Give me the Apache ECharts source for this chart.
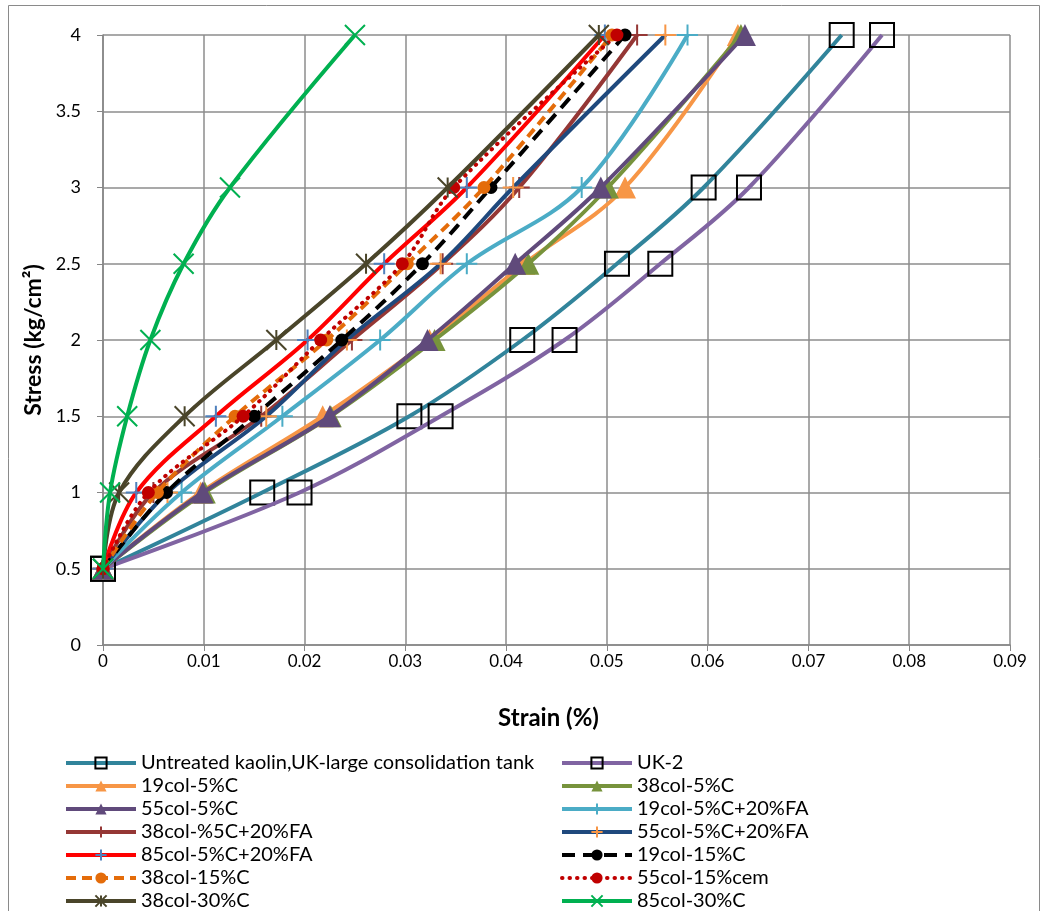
<!DOCTYPE html>
<html>
<head>
<meta charset="utf-8">
<script src="https://cdn.jsdelivr.net/npm/echarts@6/dist/echarts.min.js"></script>
<style>html,body{margin:0;padding:0;background:#fff}#c{width:1044px;height:911px}</style>
</head>
<body>
<div id="c"></div>
<script>
// Stress levels (kg/cm2) shared by every series
const stress = [0.5, 1, 1.5, 2, 2.5, 3, 4];
// Strain (%) per series
const untreated   = [0, 0.0158, 0.0304, 0.0416, 0.0510, 0.0596, 0.0733];
const uk2         = [0, 0.0195, 0.0335, 0.0458, 0.0553, 0.0641, 0.0773];
const c19_5C      = [0, 0.0097, 0.0218, 0.0324, 0.0418, 0.0518, 0.0630];
const c38_5C      = [0, 0.0101, 0.0226, 0.0329, 0.0422, 0.0501, 0.0633];
const c55_5C      = [0, 0.0099, 0.0225, 0.0322, 0.0409, 0.0494, 0.0637];
const c19_5C20FA  = [0, 0.0078, 0.0178, 0.0275, 0.0361, 0.0475, 0.0580];
const c38_5C20FA  = [0, 0.0050, 0.0157, 0.0247, 0.0337, 0.0413, 0.0530];
const c55_5C20FA  = [0, 0.0064, 0.0162, 0.0242, 0.0335, 0.0407, 0.0558];
const c85_5C20FA  = [0, 0.0033, 0.0112, 0.0203, 0.0279, 0.0361, 0.0498];
const c19_15C     = [0, 0.0063, 0.0150, 0.0237, 0.0317, 0.0385, 0.0518];
const c38_15C     = [0, 0.0054, 0.0131, 0.0222, 0.0302, 0.0378, 0.0505];
const c55_15cem   = [0, 0.0045, 0.0139, 0.0216, 0.0297, 0.0348, 0.0510];
const c38_30C     = [0, 0.0016, 0.0081, 0.0172, 0.0261, 0.0342, 0.0492];
const c85_30C     = [0, 0.0007, 0.0024, 0.0047, 0.0080, 0.0126, 0.0250];

const names = [
  'Untreated kaolin,UK-large consolidation tank', 'UK-2',
  '19col-5%C', '38col-5%C',
  '55col-5%C', '19col-5%C+20%FA',
  '38col-%5C+20%FA', '55col-5%C+20%FA',
  '85col-5%C+20%FA', '19col-15%C',
  '38col-15%C', '55col-15%cem',
  '38col-30%C', '85col-30%C'
];
const values = [untreated, uk2, c19_5C, c38_5C, c55_5C, c19_5C20FA, c38_5C20FA,
  c55_5C20FA, c85_5C20FA, c19_15C, c38_15C, c55_15cem, c38_30C, c85_30C];
const xTicks = ['0','0.01','0.02','0.03','0.04','0.05','0.06','0.07','0.08','0.09'];

const PLUS = 'path://M5,0L5,10M0,5L10,5';
const XMARK = 'path://M0,0L10,10M10,0L0,10';
const STAR = 'path://M0,0L10,10M10,0L0,10M5,0L5,10';

// styles: [lineColor, lineType, symbol, symbolSize, markerFill, markerStroke, strokeWidth, cap]
const styles = [
  ['#31849B','solid','rect',24,'transparent','#000',2,'butt'],
  ['#8064A2','solid','rect',24,'transparent','#000',2,'butt'],
  ['#F79646','solid','triangle',22,'#F79646','#F79646',0,'butt'],
  ['#77933C','solid','triangle',22,'#77933C','#77933C',0,'butt'],
  ['#604A7B','solid','triangle',22,'#604A7B','#604A7B',0,'butt'],
  ['#4BACC6','solid',PLUS,21,'#4BACC6','#4BACC6',2,'butt'],
  ['#953735','solid',PLUS,21,'#953735','#953735',2,'butt'],
  ['#1F497D','solid',PLUS,21,'#F79646','#F79646',2,'butt'],
  ['#FF0000','solid',PLUS,21,'#4F81BD','#4F81BD',2,'butt'],
  ['#000000',[13,8],'circle',13,'#000000','#000000',0,'butt'],
  ['#E46C0A',[10,6],'circle',13,'#E46C0A','#E46C0A',0,'butt'],
  ['#C00000',[0.5,7],'circle',13,'#C00000','#C00000',0,'round'],
  ['#4A452A','solid',STAR,20,'#4A452A','#4A452A',2,'butt'],
  ['#00B050','solid',XMARK,20,'#00B050','#00B050',2,'butt']
];

const series = names.map((n, i) => {
  const s = styles[i];
  return {
    name: n,
    type: 'line',
    smooth: 0.35,
    data: values[i].map((v, k) => [v, stress[k]]),
    symbol: s[2],
    symbolSize: s[3],
    showAllSymbol: true,
    lineStyle: {color: s[0], width: 4, type: s[1], cap: s[7]},
    itemStyle: {color: s[4], borderColor: s[5], borderWidth: s[6]},
    emphasis: {disabled: true},
    z: 2 + i
  };
});

const FONT = 'Lato, Liberation Sans, sans-serif';
const legendFont = {fontFamily: FONT, fontSize: 20, lineHeight: 20, color: '#000'};
const legendBase = {orient: 'vertical', top: 753, height: 170, padding: 0,
  itemWidth: 70, itemHeight: 14, itemGap: 3, textStyle: legendFont,
  lineStyle: {width: 4}};
const chart = echarts.init(document.getElementById('c'), null, {renderer: 'canvas'});
chart.setOption({
  animation: false,
  backgroundColor: '#fff',
  graphic: [{type: 'rect', shape: {x: 8.5, y: 5.5, width: 1031, height: 930}, style: {fill: 'none', stroke: '#8a8a8a', lineWidth: 1}, silent: true}],
  grid: {left: 103, right: 34, top: 35, bottom: 266, containLabel: false},
  xAxis: {
    type: 'value', min: 0, max: 0.09, interval: 0.01,
    name: 'Strain (%)', nameLocation: 'middle', nameGap: 61,
    nameTextStyle: {fontFamily: FONT, fontWeight: 'bold', fontSize: 24, color: '#000', padding: [0, 16, 0, 0]},
    axisLine: {lineStyle: {color: '#868686', width: 1.5}},
    axisTick: {show: true, length: 6, inside: false, lineStyle: {color: '#868686'}},
    axisLabel: {margin: 8, fontFamily: FONT, fontSize: 17, color: '#000',
      formatter: (v) => xTicks[Math.round(v / 0.01)]},
    splitLine: {show: true, lineStyle: {color: '#8c8c8c', width: 1.5}}
  },
  yAxis: {
    type: 'value', min: 0, max: 4, interval: 0.5,
    name: 'Stress (kg/cm²)', nameLocation: 'middle', nameGap: 57, nameRotate: 90,
    nameTextStyle: {fontFamily: FONT, fontWeight: 'bold', fontSize: 23, color: '#000'},
    axisLine: {show: true, lineStyle: {color: '#868686', width: 1.5}},
    axisTick: {show: true, length: 6, inside: false, lineStyle: {color: '#868686'}},
    axisLabel: {margin: 22, fontFamily: FONT, fontSize: 18, color: '#000'},
    splitLine: {show: true, lineStyle: {color: '#8c8c8c', width: 1.5}}
  },
  legend: [
    Object.assign({left: 64, data: names.filter((_, i) => i % 2 === 0)}, legendBase),
    Object.assign({left: 560, data: names.filter((_, i) => i % 2 === 1)}, legendBase)
  ],
  series: series
});
</script>
</body>
</html>
